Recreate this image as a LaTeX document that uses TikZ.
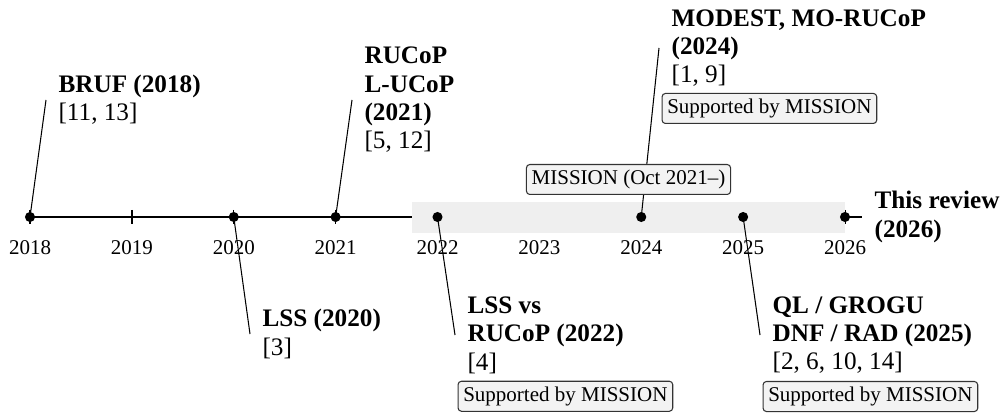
\documentclass[tikz,border=0pt]{standalone}
\usepackage{fontspec}
\setmainfont{Liberation Serif}
\usetikzlibrary{calc}
\definecolor{bandgray}{HTML}{EFEFEF}
\definecolor{boxfill}{HTML}{F3F3F3}
\definecolor{boxdraw}{HTML}{333333}
\begin{document}
\begin{tikzpicture}[x=0.47619pt,y=-0.47619pt,
  evdot/.style={circle, fill=black, inner sep=0pt, minimum size=4.8pt},
  evlabel/.style={align=left, font=\fontsize{12}{13.5}\selectfont, inner xsep=6pt, inner ysep=0pt, outer sep=0pt, anchor=west},
  supbox/.style={draw=boxdraw, fill=boxfill, rounded corners=1.6pt, line width=0.5pt, font=\fontsize{10}{12}\selectfont, inner xsep=2.5pt, inner ysep=2.6pt},
  yearlab/.style={font=\fontsize{10}{12}\selectfont, anchor=base, inner sep=0pt},
  connector/.style={line width=0.5pt},
  axisline/.style={line width=1pt},
  tickline/.style={line width=0.6pt}]
\useasboundingbox[fill=white] (0,0) rectangle (1008,415);
% year positions
\foreach \yr [count=\i from 0] in {2018,...,2026}{
  \coordinate (p\yr) at ({30+\i*101.875},217);
  \node[yearlab] (yr\yr) at ({30+\i*101.875},255) {\yr};
}
% axis and ticks
\draw[axisline] (p2018) -- (p2026);
\foreach \yr in {2018,...,2026}{
  \draw[tickline] ($(p\yr)+(0,-7)$) -- ($(p\yr)+(0,7)$);
}
% MISSION band
\coordinate (bandSW) at (412,233);
\coordinate (bandNE) at (845,202);
\fill[bandgray] (bandSW) rectangle (bandNE);
% dots
\foreach \yr in {2018,2020,2021,2022,2024,2025,2026}{
  \node[evdot] (d\yr) at (p\yr) {};
}
% labels
\node[evlabel] (lab2018) at (46,100) {\textbf{BRUF (2018)}\\{}[11, 13]};
\node[evlabel] (lab2020) at (250,334) {\textbf{LSS (2020)}\\{}[3]};
\node[evlabel] (lab2021) at (352,100) {\textbf{RUCoP}\\\textbf{L-UCoP}\\\textbf{(2021)}\\{}[5, 12]};
\node[evlabel] (lab2022) at (455,335) {\textbf{LSS vs}\\\textbf{RUCoP (2022)}\\{}[4]};
\node[evlabel] (lab2024) at (659,48) {\textbf{MODEST, MO-RUCoP}\\\textbf{(2024)}\\{}[1, 9]};
\node[evlabel] (lab2025) at (760,335) {\textbf{QL / GROGU}\\\textbf{DNF / RAD (2025)}\\{}[2, 6, 10, 14]};
\node[evlabel] (lab2026) at (862,217) {\textbf{This review}\\\textbf{(2026)}};
% connectors
\foreach \yr in {2018,2020,2021,2022,2024,2025,2026}{
  \draw[connector] (d\yr.center) -- (lab\yr.west);
}
% supported boxes
\node[supbox, anchor=north west] (sup2022) at ([xshift=1.2pt,yshift=-3.5pt]lab2022.south west) {Supported by MISSION};
\node[supbox, anchor=north west] (sup2024) at ([xshift=1.2pt,yshift=-3pt]lab2024.south west) {Supported by MISSION};
\node[supbox, anchor=north west] (sup2025) at ([xshift=1.2pt,yshift=-3.5pt]lab2025.south west) {Supported by MISSION};
% MISSION project box
\node[supbox, anchor=south] (mission) at ($(bandSW|-bandNE)!0.5!(bandNE)+(0,-7)$) {MISSION (Oct 2021–)};
\end{tikzpicture}
\end{document}
